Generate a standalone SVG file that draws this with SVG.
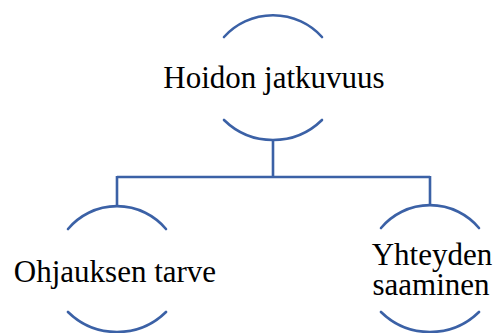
<svg xmlns="http://www.w3.org/2000/svg" width="493" height="333" viewBox="0 0 493 333">
<style>
.arc{fill:none;stroke:#3B61A6;stroke-width:2.6;stroke-linecap:round}
.con{fill:none;stroke:#3B61A6;stroke-width:2.6}
.lbl{font-family:"Liberation Serif","Times New Roman",serif;font-size:31px;fill:#000;text-anchor:middle}
</style>
<rect width="493" height="333" fill="#fff"/>
<g id="connectors">
<path class="con" d="M273,139 V177 M117,177 H430 M117,176 V206 M430,176 V205"/>
</g>
<g id="node-hoidon">
<path class="arc" d="M224,37 A66,66 0 0 1 322,37"/>
<path class="arc" d="M224,120 A70,70 0 0 0 322,120"/>
<text class="lbl" x="274" y="88">Hoidon jatkuvuus</text>
</g>
<g id="node-ohjauksen">
<path class="arc" d="M68,229 A64,64 0 0 1 166,229"/>
<path class="arc" d="M68,312 A70,70 0 0 0 166,312"/>
<text class="lbl" x="115" y="282">Ohjauksen tarve</text>
</g>
<g id="node-yhteyden">
<path class="arc" d="M381,228 A64,64 0 0 1 479,228"/>
<path class="arc" d="M381,312 A70,70 0 0 0 479,312"/>
<text class="lbl" x="432" y="265">Yhteyden</text>
<text class="lbl" x="431" y="295">saaminen</text>
</g>
</svg>
